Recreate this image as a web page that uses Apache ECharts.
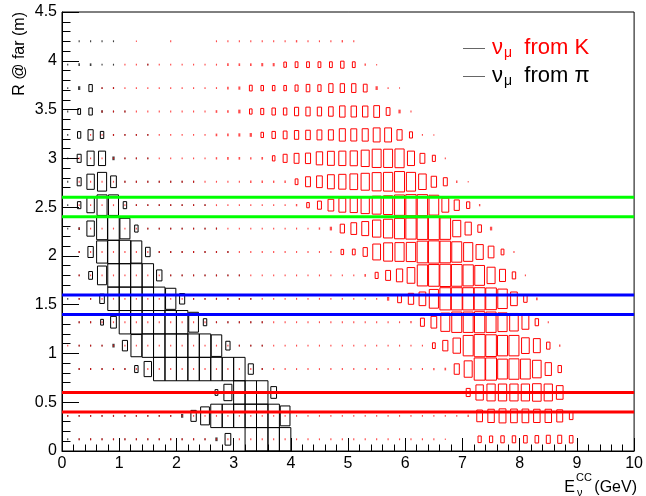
<!DOCTYPE html>
<html>
<head>
<meta charset="utf-8">
<script src="https://cdn.jsdelivr.net/npm/echarts@6/dist/echarts.min.js"></script>
<style>
  html, body { margin: 0; padding: 0; background: #fff; }
  #chart { width: 646px; height: 496px; }
</style>
</head>
<body>
<div id="chart"></div>
<script>
// Binning of the 2D histograms: neutrino energy (GeV) vs radius at the far detector (m)
const energyLow = 0, energyStep = 0.2;      // 50 bins, 0-10 GeV
const radiusLow = 0, radiusStep = 0.24;     // rows from the bottom
const maxContent = 100;                     // bin content giving a full-size box
const xTickValues = [0, 1, 2, 3, 4, 5, 6, 7, 8, 9, 10];
const yTickValues = [0, 0.5, 1, 1.5, 2, 2.5, 3, 3.5, 4, 4.5];

// Radius cut bands
const greenCuts = [2.4, 2.6];
const blueCuts = [1.4, 1.6];
const redCuts = [0.4, 0.6];

// nu_mu from pi : one array per radius row (row 0 = lowest), one entry per energy bin
const pionRows = [
  [1,1,1,1,1,1,1,1,1,1, 1,1,1,4,25,0,100,100,100,100],
  [1,1,1,1,1,1,1,1,1,1, 4,22,59,100,100,100,100,100,100,72],
  [1,1,1,1,1,1,1,1,1,1, 1,1,1,6,49,100,100,100,25],
  [0,1,1,1,1,1,9,42,100,100, 100,100,100,100,100,100,20,1],
  [0,1,1,1,4,20,90,100,100,100, 100,100,100,85,14,1,1,1],
  [0,1,1,6,25,100,100,100,100,100, 100,72,9,1,1,1,1,1],
  [1,1,1,16,100,100,100,100,100,81, 20,1,1,1,1,1,1],
  [0,1,11,64,100,100,100,100,22,1, 1,1,1,1,1,1],
  [0,1,22,90,100,100,90,16,1,1, 1,1,1,1,1],
  [1,2,42,90,100,77,9,1,1,1, 1,1,1,1],
  [1,9,42,77,77,9,1,1,1,1, 1,1,1],
  [1,12,42,64,25,1,1,1,1,1, 1,1],
  [1,12,38,38,4,1,1,1],
  [1,8,20,9,1,1,1,1],
  [1,6,9,2,1,1],
  [1,4,9,1,1],
  [1,2,2,1,1,0,0,1],
  [0,1,1,1,1]
];

// nu_mu from K : same layout
const kaonRows = [
  [0,1,1,1,1,1,1,1,1,1, 1,1,1,1,1,1,1,1,1,1, 1,1,1,1,1,1,1,1,1,1, 1,1,1,0.5,0,0,8,8,9,9, 10,10,12,12,10],
  [1,1,1,1,1,1,1,1,1,1, 1,1,1,1,1,1,1,1,1,1, 1,1,1,1,1,1,1,1,1,1, 1,1,1,1,1,1.5,25,32,36,34, 34,32,32,27,10],
  [0,1,1,1,1,1,1,1,1,1, 1,1,1,1,1,1,1,1,1,1, 1,1,1,1,1,1,1,1,1,1, 1,1,1,1,1,12,42,52,52,52, 52,56,52,34,1],
  [0,1,1,1,1,1,1,1,1,1, 1,1,1,1,1,1,1,1,1,1, 1,1,1,1,1,1,1,1,1,1, 1,1,1.5,2,20,49,90,90,72,76, 72,56,30,9],
  [1,1,1,1,1,1,1,1,1,1, 1,1,1,1,1,1,1,1,1,1, 1,1,1,1,1,1,1,1,1,1, 1,1,6,20,42,76,90,86,76,76, 45,36,9,1.5],
  [0,1,1,1,1,1,1,1,1,1, 1,1,1,1,1,1,1,1,1,1, 1,1,1,1,1,1,1,1,1,1, 1.5,12,25,61,76,76,81,76,64,56, 36,9,1],
  [0,1,1,1,1,1,1,1,1,1, 1,1,1,1,1,1,1,1,1,1, 1,1,1,1,1,1,1,1,4,11, 22,34,64,90,90,90,90,86,69,34, 9,2],
  [0,1,1,1,1,1,1,1,1,1, 1,1,1,1,1,1,1,1,1,1, 1,1,1,1,1,1,2,7,18,30, 45,81,86,90,86,81,72,49,27,9, 1],
  [0,1,1,1,1,1,1,1,1,1, 1,1,1,1,1,1,1,1,1,1, 1,1,1,1,5,6,14,46,61,64, 67,86,90,86,76,64,40,25,6,1],
  [0,1,1,1,1,1,1,1,1,1, 1,1,1,1,1,1,1,1,1,1, 1,1,1.5,4,14,25,36,53,64,76, 81,86,90,85,49,30,10,4],
  [0,1,1,1,1,1,1,1,1,1, 1,1,1,1,1,1,1,1,1,1, 1.5,5,12,25,36,40,52,59,64,76, 81,81,72,36,20,8,1.5],
  [0,1,1,1,1,1,1,1,1,1, 1,1,1,1,1,1,1.5,1.5,1.5,1.5, 6,18,25,36,40,45,52,61,64,76, 64,44,22,12,1.5,0.5],
  [0,1,1,1,1,1,1,1,1,1, 1,1,1,1.5,2,2,1.5,2,5,12, 18,20,31,36,38,40,49,61,61,64, 38,18,7,1],
  [0,0,1,1,1,1,1,1,1,1, 1,1,1,2,2,3,4,5,9,11, 14,16,18,19,28,27,28,36,36,20, 7,1,0.5],
  [0,0,0,1,1,1,1,1,1,1, 1,1,1,2,2,4,5,7,9,9, 13,14,14,16,23,22,22,25,11,4, 1],
  [0,0,0,1,1,1,1,1,1,1, 1,1,1,1,2,3,6,5,5,5, 7,10,8,14,14,14,11,4,1,0.5],
  [0,0,0,0,0,1,1,1,1,1, 1,1,1,1,2,2,2,3,3,5, 6,6,6,6,9,6,1.5,0.7],
  [0,0,0,0,0,0,0.5,0,0,1, 0,0,0,1,1,1,1,1,1,1, 1.5,1,1,1,1.5,1]
];

const FONT = '"Liberation Sans", Arial, Helvetica, sans-serif';

// Turn row arrays into [energy, radius, content] cells at the bin centres
function toCells(rows) {
  const cells = [];
  rows.forEach((row, j) => {
    row.forEach((v, i) => {
      if (v > 0) {
        cells.push([energyLow + (i + 0.5) * energyStep, radiusLow + (j + 0.5) * radiusStep, v]);
      }
    });
  });
  return cells;
}

// ROOT-style "BOX" drawing: box area proportional to the bin content
function boxRenderer(color, dotOpacity) {
  return function (params, api) {
    const c = api.coord([api.value(0), api.value(1)]);
    const s = api.size([energyStep, radiusStep]);
    const f = Math.sqrt(api.value(2) / maxContent);
    const w = s[0] * f, h = s[1] * f;
    if (w < 2.5) {
      // boxes too small to show an outline end up as specks
      const ww = Math.max(w, 1), hh = Math.max(h * 0.8, 1.5);
      return {
        type: 'rect',
        shape: { x: c[0] - ww / 2, y: c[1] - hh / 2, width: ww, height: hh },
        style: { fill: color, opacity: dotOpacity }
      };
    }
    return {
      type: 'rect',
      shape: { x: c[0] - w / 2, y: c[1] - h / 2, width: w, height: h },
      style: { fill: 'none', stroke: color, lineWidth: 1 }
    };
  };
}

function cutSeries(values, color) {
  return values.map(r => ({
    type: 'line',
    data: [[xTickValues[0], r], [xTickValues[xTickValues.length - 1], r]],
    symbol: 'none',
    silent: true,
    z: 5,
    lineStyle: { color: color, width: 3 }
  }));
}

const chart = echarts.init(document.getElementById('chart'), null, { renderer: 'canvas' });

const axisCommon = {
  type: 'value',
  splitLine: { show: false },
  axisLine: { show: true, onZero: false, lineStyle: { color: '#000', width: 1 } },
  axisLabel: { color: '#000', fontSize: 16, fontFamily: FONT, margin: 5 }
};

chart.setOption({
  animation: false,
  backgroundColor: '#fff',
  grid: { left: 62, right: 8, top: 12, bottom: 45, show: true, borderColor: '#000', borderWidth: 1, containLabel: false },
  xAxis: Object.assign({}, axisCommon, {
    min: xTickValues[0], max: xTickValues[xTickValues.length - 1], interval: 1,
    axisTick: { show: true, inside: true, length: 13, lineStyle: { color: '#000' } },
    minorTick: { show: true, splitNumber: 5, length: 6.5, lineStyle: { color: '#000' } }
  }),
  yAxis: Object.assign({}, axisCommon, {
    min: yTickValues[0], max: yTickValues[yTickValues.length - 1], interval: 0.5,
    axisTick: { show: true, inside: true, length: 17, lineStyle: { color: '#000' } },
    minorTick: { show: true, splitNumber: 5, length: 8.5, lineStyle: { color: '#000' } }
  }),
  series: [
    { type: 'custom', name: 'pi', coordinateSystem: 'cartesian2d', clip: true, silent: true,
      renderItem: boxRenderer('#000000', 0.75), data: toCells(pionRows), z: 2 },
    { type: 'custom', name: 'K', coordinateSystem: 'cartesian2d', clip: true, silent: true,
      renderItem: boxRenderer('#ff0000', 0.7), data: toCells(kaonRows), z: 3 }
  ].concat(cutSeries(greenCuts, '#00ff00'), cutSeries(blueCuts, '#0000ff'), cutSeries(redCuts, '#ff0000')),
  graphic: [
    // y-axis title
    { type: 'text', x: 20, y: 12, rotation: Math.PI / 2,
      style: { text: 'R @ far (m)', fill: '#000', font: '16px ' + FONT, align: 'right', verticalAlign: 'middle' } },
    // x-axis title: E with nu subscript and CC superscript
    { type: 'text', x: 575, y: 488,
      style: { text: 'E', fill: '#000', font: '16px ' + FONT, align: 'right', verticalAlign: 'middle' } },
    { type: 'text', x: 576, y: 478,
      style: { text: 'CC', fill: '#000', font: '11px ' + FONT, align: 'left', verticalAlign: 'middle' } },
    { type: 'text', x: 577, y: 493,
      style: { text: 'ν', fill: '#000', font: '11px ' + FONT, align: 'left', verticalAlign: 'middle' } },
    { type: 'text', x: 637, y: 488,
      style: { text: '(GeV)', fill: '#000', font: '16px ' + FONT, align: 'right', verticalAlign: 'middle' } },
    // legend
    { type: 'line', shape: { x1: 463, y1: 48.5, x2: 485, y2: 48.5 }, style: { stroke: '#666', lineWidth: 1 } },
    { type: 'line', shape: { x1: 463, y1: 76.5, x2: 485, y2: 76.5 }, style: { stroke: '#666', lineWidth: 1 } },
    { type: 'text', x: 492, y: 48,
      style: { text: '{a|ν}{s|μ}{a|  from K}', verticalAlign: 'middle', align: 'left',
        rich: { a: { fill: '#ff0000', font: '22px ' + FONT }, s: { fill: '#ff0000', font: '14px ' + FONT, padding: [11, 0, 0, 1] } } } },
    { type: 'text', x: 492, y: 76,
      style: { text: '{a|ν}{s|μ}{a|  from π}', verticalAlign: 'middle', align: 'left',
        rich: { a: { fill: '#000', font: '22px ' + FONT }, s: { fill: '#000', font: '14px ' + FONT, padding: [11, 0, 0, 1] } } } }
  ]
});
</script>
</body>
</html>
